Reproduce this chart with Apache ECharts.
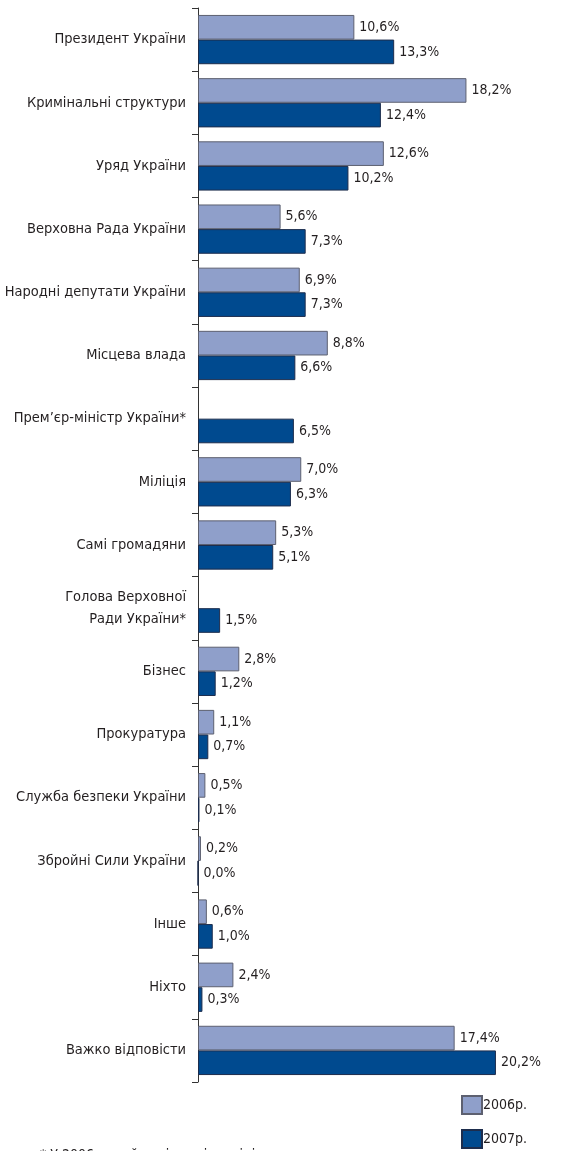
<!DOCTYPE html>
<html>
<head>
<meta charset="utf-8">
<script src="https://cdn.jsdelivr.net/npm/echarts@6/dist/echarts.min.js"></script>
<style>
html,body{margin:0;padding:0;background:#fff;}
#c{width:580px;height:1151px;}
</style>
</head>
<body>
<div id="c"></div>
<script>
const categories = [
  'Президент України',
  'Кримінальні структури',
  'Уряд України',
  'Верховна Рада України',
  'Народні депутати України',
  'Місцева влада',
  'Прем’єр-міністр України*',
  'Міліція',
  'Самі громадяни',
  'Голова Верховної\nРади України*',
  'Бізнес',
  'Прокуратура',
  'Служба безпеки України',
  'Збройні Сили України',
  'Інше',
  'Ніхто',
  'Важко відповісти'
];
const values2006 = [10.6, 18.2, 12.6, 5.6, 6.9, 8.8, null, 7.0, 5.3, null, 2.8, 1.1, 0.5, 0.2, 0.6, 2.4, 17.4];
const values2007 = [13.3, 12.4, 10.2, 7.3, 7.3, 6.6, 6.5, 6.3, 5.1, 1.5, 1.2, 0.7, 0.1, 0.0, 1.0, 0.3, 20.2];
const seriesNames = ['2006р.', '2007р.'];
const footnote = '* У 2006 р. цей варіант відповіді не пропонувався';

const FONT = "'DejaVu Sans Condensed','Liberation Sans Narrow',Arial,sans-serif";
const TXT = '#231f20';
const fmt = p => (p.value == null ? '' : p.value.toFixed(1).replace('.', ',') + '%');

const chart = echarts.init(document.getElementById('c'));
chart.setOption({
  animation: false,
  textStyle: {fontFamily: FONT},
  grid: {left: 198, top: 8, bottom: 69, width: 354, outerBoundsMode: 'none', containLabel: false},
  xAxis: {
    type: 'value', min: 0, max: 24,
    show: false
  },
  yAxis: {
    type: 'category',
    data: categories,
    inverse: true,
    axisLine: {show: true, lineStyle: {color: '#333', width: 1}},
    axisTick: {show: true, length: 6, lineStyle: {color: '#333'}},
    axisLabel: {color: TXT, fontSize: 14.5, fontFamily: FONT, margin: 12, lineHeight: 22}
  },
  legend: {
    orient: 'vertical',
    left: 461, top: 1095, padding: 0,
    itemWidth: 20, itemHeight: 18, itemGap: 14,
    icon: 'rect',
    textStyle: {color: TXT, fontSize: 14, fontFamily: FONT, padding: [0,0,0,-4]},
    data: seriesNames
  },
  series: [
    {
      name: seriesNames[0], type: 'bar', data: values2006,
      barGap: '0%', barCategoryGap: '22%',
      itemStyle: {color: '#8f9fca', borderColor: '#5d6070', borderWidth: 1},
      label: {show: true, position: 'right', distance: 5, color: TXT, fontSize: 14, fontFamily: FONT, formatter: fmt}
    },
    {
      name: seriesNames[1], type: 'bar', data: values2007,
      barGap: '0%', barCategoryGap: '22%',
      itemStyle: {color: '#004a8f', borderColor: '#1d2d4d', borderWidth: 1},
      label: {show: true, position: 'right', distance: 5, color: TXT, fontSize: 14, fontFamily: FONT, formatter: fmt}
    }
  ],
  graphic: [{
    type: 'text', left: 40, top: 1148,
    style: {text: footnote, fill: TXT, font: "14px " + FONT}
  }]
});
</script>
</body>
</html>
